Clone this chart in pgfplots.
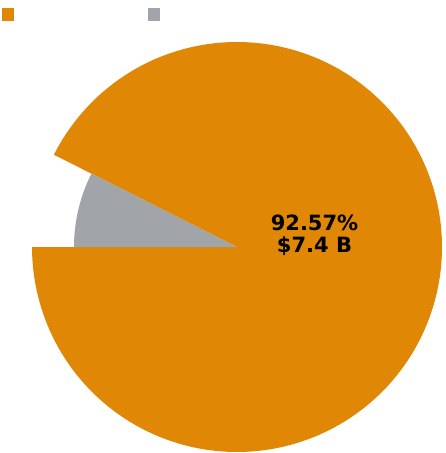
\documentclass[border=0pt]{standalone}
\usepackage{pgfplots}
\usepackage{pgfplotstable}
\pgfplotsset{compat=1.18}
\usepackage{fontspec}
\setmainfont{DejaVu Sans}
\definecolor{pieorange}{RGB}{224,135,5}
\definecolor{piegrey}{RGB}{161,165,169}
\pgfplotstableread{
label value radius
A 92.57 205
B 7.43 163
}\piedata
\begin{document}
\begin{tikzpicture}
\pgfplotstablegetelem{0}{value}\of\piedata
\pgfmathsetmacro\va{\pgfplotsretval}
\pgfplotstablegetelem{0}{radius}\of\piedata
\pgfmathsetmacro\ra{\pgfplotsretval}
\pgfplotstablegetelem{1}{value}\of\piedata
\pgfmathsetmacro\vb{\pgfplotsretval}
\pgfplotstablegetelem{1}{radius}\of\piedata
\pgfmathsetmacro\rb{\pgfplotsretval}
\pgfmathsetmacro\sA{180}
\pgfmathsetmacro\eA{180+3.6*\va}
\pgfmathsetmacro\eB{\eA+3.6*\vb}
\begin{axis}[hide axis, scale only axis, width=446pt, height=453pt,
  xmin=0, xmax=446, ymin=0, ymax=453, y dir=reverse]
\path (axis cs:0,0) rectangle (axis cs:446,453);
\addplot[fill=pieorange, draw=none, domain=\sA:\eA, samples=300, variable=\t]
  ({237+\ra*cos(\t)},{247-\ra*sin(\t)}) -- (237,247) -- cycle;
\addplot[fill=piegrey, draw=none, domain=\eA:\eB, samples=60, variable=\t]
  ({237+\rb*cos(\t)},{247-\rb*sin(\t)}) -- (237,247) -- cycle;
\addplot[fill=pieorange, draw=none] coordinates {(2,8) (14,8) (14,21) (2,21)} -- cycle;
\addplot[fill=piegrey, draw=none] coordinates {(148,8) (160,8) (160,21) (148,21)} -- cycle;
\node[align=center, font=\bfseries\fontsize{21}{22.5}\selectfont, inner sep=0pt] at (axis cs:314.5,235) {92.57\%\\\$7.4 B};
\end{axis}
\end{tikzpicture}
\end{document}
